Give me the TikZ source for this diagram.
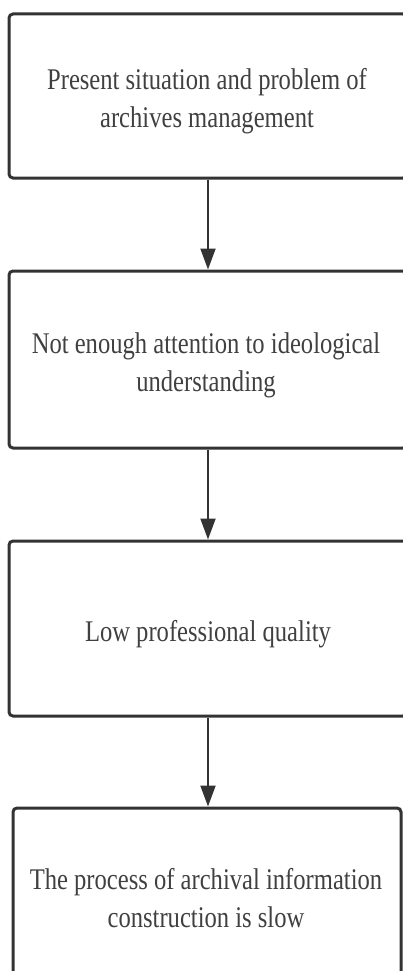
\documentclass[tikz,border=0pt]{standalone}
\usepackage{fontspec}
\setmainfont{Liberation Serif}[FakeStretch=0.82]
\usetikzlibrary{arrows.meta}
\begin{document}
\begin{tikzpicture}[x=1pt,y=1pt,
  box/.style={draw=black!80, line width=3pt, rounded corners=4pt, inner sep=0pt},
  txt/.style={align=center, text=black!75, font=\fontsize{30}{38}\selectfont, inner sep=0pt},
  arr/.style={draw=black!80, line width=2pt, -{Triangle[length=21pt,width=15pt]}}]
\useasboundingbox (0,0) rectangle (403,-971);
\node[box, minimum width=398pt, minimum height=164pt] (prob) at (208,-96) {};
\node[box, minimum width=398pt, minimum height=177pt] (idea) at (208,-359.5) {};
\node[box, minimum width=398pt, minimum height=175pt] (qual) at (208,-628.5) {};
\node[box, minimum width=388pt, minimum height=174pt] (slow) at (207,-895) {};
\node[txt] (probtxt) at (207,-101.5) {Present situation and problem of\\archives management};
\node[txt] (ideatxt) at (206,-365) {Not enough attention to ideological\\understanding};
\node[txt] (qualtxt) at (208,-634) {Low professional quality};
\node[txt] (slowtxt) at (206,-898) {The process of archival information\\construction is slow};
\draw[arr] (prob.south) -- (idea.north);
\draw[arr] (idea.south) -- (qual.north);
\draw[arr] (qual.south) -- (qual.south |- slow.north);
\end{tikzpicture}
\end{document}
